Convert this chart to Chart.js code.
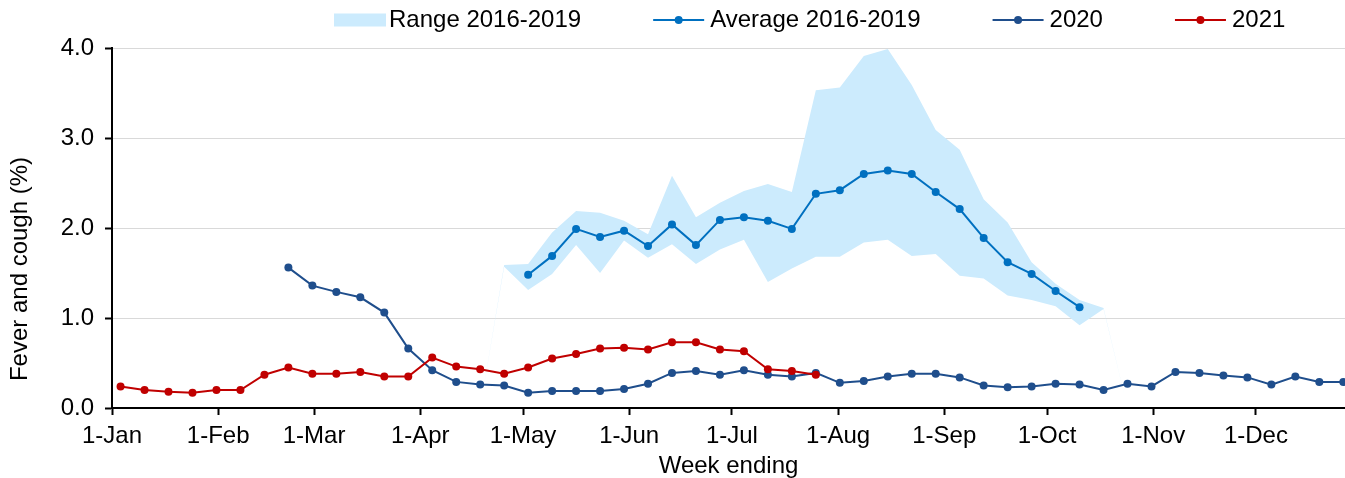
<!DOCTYPE html>
<html>
<head>
<meta charset="utf-8">
<script src="https://cdn.jsdelivr.net/npm/chart.js@4"></script>
<style>
  body { margin: 0; background: #fff; }
  canvas { display: block; }
</style>
</head>
<body>
<canvas id="chart" width="1345" height="478"></canvas>
<script>
// week ending dates (all series share the same weeks)
const weekEnding = [
  "3-Jan", "10-Jan", "17-Jan", "24-Jan", "31-Jan",
  "7-Feb", "14-Feb", "21-Feb", "28-Feb",
  "7-Mar", "14-Mar", "21-Mar", "28-Mar",
  "4-Apr", "11-Apr", "18-Apr", "25-Apr",
  "2-May", "9-May", "16-May", "23-May", "30-May",
  "6-Jun", "13-Jun", "20-Jun", "27-Jun",
  "4-Jul", "11-Jul", "18-Jul", "25-Jul",
  "1-Aug", "8-Aug", "15-Aug", "22-Aug", "29-Aug",
  "5-Sep", "12-Sep", "19-Sep", "26-Sep",
  "3-Oct", "10-Oct", "17-Oct", "24-Oct", "31-Oct",
  "7-Nov", "14-Nov", "21-Nov", "28-Nov",
  "5-Dec", "12-Dec", "19-Dec", "26-Dec"
];

const months = ["Jan", "Feb", "Mar", "Apr", "May", "Jun", "Jul", "Aug", "Sep", "Oct", "Nov", "Dec"];
const monthStartDay = [0, 31, 59, 90, 120, 151, 181, 212, 243, 273, 304, 334];
const monthTickLabels = ["1-Jan", "1-Feb", "1-Mar", "1-Apr", "1-May", "1-Jun", "1-Jul", "1-Aug", "1-Sep", "1-Oct", "1-Nov", "1-Dec"];
const yTicks = [0, 1, 2, 3, 4];

// range 2016-2019 (lower / upper edge of the band)
const rangeLow = [
  null, null, null, null, null, null, null, null, null, null, null, null, null, null, null,
  0,
  1.57, 1.31, 1.49, 1.81, 1.50, 1.86, 1.67, 1.82, 1.60, 1.76, 1.87, 1.40, 1.55,
  1.68, 1.68, 1.84, 1.87, 1.69, 1.71, 1.47, 1.44, 1.25, 1.20, 1.13, 0.92, 1.10,
  0,
  null, null, null, null, null, null, null, null, null
];
const rangeHigh = [
  null, null, null, null, null, null, null, null, null, null, null, null, null, null, null,
  0,
  1.59, 1.60, 1.95, 2.19, 2.17, 2.08, 1.93, 2.58, 2.12, 2.28, 2.41, 2.49, 2.40,
  3.53, 3.56, 3.91, 3.99, 3.59, 3.09, 2.87, 2.32, 2.06, 1.62, 1.38, 1.20, 1.11,
  0,
  null, null, null, null, null, null, null, null, null
];

const avg1619 = [
  null, null, null, null, null, null, null, null, null, null, null, null, null, null, null, null, null,
  1.48, 1.69, 1.99, 1.90, 1.97, 1.80, 2.04, 1.81, 2.09, 2.12, 2.08, 1.99,
  2.38, 2.42, 2.60, 2.64, 2.60, 2.40, 2.21, 1.89, 1.62, 1.49, 1.30, 1.12,
  null, null, null, null, null, null, null, null, null, null, null
];

const y2020 = [
  null, null, null, null, null, null, null,
  1.56, 1.36, 1.29, 1.23, 1.06, 0.66, 0.42, 0.29, 0.26, 0.25,
  0.17, 0.19, 0.19, 0.19, 0.21, 0.27, 0.39, 0.41, 0.37, 0.42,
  0.37, 0.35, 0.39, 0.28, 0.30, 0.35, 0.38, 0.38, 0.34, 0.25,
  0.23, 0.24, 0.27, 0.26, 0.20, 0.27, 0.24, 0.40, 0.39, 0.36,
  0.34, 0.26, 0.35, 0.29, 0.29
];

const y2021 = [
  0.24, 0.20, 0.18, 0.17, 0.20, 0.20, 0.37, 0.45, 0.38, 0.38,
  0.40, 0.35, 0.35, 0.56, 0.46, 0.43, 0.38, 0.45, 0.55, 0.60,
  0.66, 0.67, 0.65, 0.73, 0.73, 0.65, 0.63, 0.43, 0.41, 0.37,
  null, null, null, null, null, null, null, null, null, null, null,
  null, null, null, null, null, null, null, null, null, null, null
];

const FONT = '"Liberation Sans", Arial, sans-serif';

// day of the year, points sit in the middle of the day like the excel date axis
function dayOfYear(label) {
  const [d, m] = label.split("-");
  return monthStartDay[months.indexOf(m)] + (+d - 1) + 0.5;
}
const weekX = weekEnding.map(dayOfYear);
const toPoints = values => values.map((v, i) => ({ x: weekX[i], y: v }));

// legend and y title are drawn by hand so they can sit where the original has them
const extrasPlugin = {
  id: "extras",
  afterDraw(chart) {
    const ctx = chart.ctx;
    ctx.save();
    ctx.font = "24px " + FONT;
    ctx.textBaseline = "middle";
    ctx.textAlign = "left";
    let x = 334;
    const y = 20;
    chart.data.datasets.forEach(ds => {
      if (!ds.label) return;
      if (ds.fill) {
        ctx.fillStyle = ds.backgroundColor;
        ctx.fillRect(x, y - 6.5, 52, 13);
        x += 52 + 3;
      } else {
        ctx.strokeStyle = ds.borderColor;
        ctx.lineWidth = 2;
        ctx.beginPath();
        ctx.moveTo(x, y);
        ctx.lineTo(x + 51, y);
        ctx.stroke();
        ctx.fillStyle = ds.borderColor;
        ctx.beginPath();
        ctx.arc(x + 25.5, y, 4, 0, Math.PI * 2);
        ctx.fill();
        x += 51 + 6;
      }
      ctx.fillStyle = "#000";
      ctx.fillText(ds.label, x, y);
      x += ctx.measureText(ds.label).width + 72;
    });

    // y axis title
    ctx.translate(20, 269);
    ctx.rotate(-Math.PI / 2);
    ctx.textAlign = "center";
    ctx.fillText("Fever and cough (%)", 0, 0);
    ctx.restore();
  }
};

new Chart(document.getElementById("chart"), {
  type: "line",
  data: {
    datasets: [
      {
        label: "",
        data: toPoints(rangeLow),
        borderWidth: 0,
        pointRadius: 0,
        fill: false,
        order: 5
      },
      {
        label: "Range 2016-2019",
        data: toPoints(rangeHigh),
        borderWidth: 0,
        pointRadius: 0,
        backgroundColor: "#CCEBFD",
        fill: "-1",
        order: 4
      },
      {
        label: "Average 2016-2019",
        data: toPoints(avg1619),
        borderColor: "#0070C0",
        backgroundColor: "#0070C0",
        borderWidth: 2,
        pointRadius: 4,
        pointBorderWidth: 0,
        order: 3
      },
      {
        label: "2020",
        data: toPoints(y2020),
        borderColor: "#1F4E8C",
        backgroundColor: "#1F4E8C",
        borderWidth: 2,
        pointRadius: 4,
        pointBorderWidth: 0,
        clip: false,
        order: 2
      },
      {
        label: "2021",
        data: toPoints(y2021),
        borderColor: "#C00000",
        backgroundColor: "#C00000",
        borderWidth: 2,
        pointRadius: 4,
        pointBorderWidth: 0,
        order: 1
      }
    ]
  },
  options: {
    responsive: false,
    animation: false,
    layout: {
      autoPadding: false, // plot runs right to the edge like the original
      padding: { top: 48, left: 0, right: 0, bottom: 0 }
    },
    plugins: {
      legend: { display: false },
      tooltip: { enabled: false }
    },
    scales: {
      x: {
        type: "linear",
        min: 0,
        max: 360,
        afterFit: scale => { scale.height = 70; },
        afterBuildTicks: scale => {
          scale.ticks = monthStartDay.map(v => ({ value: v }));
        },
        ticks: {
          autoSkip: false,
          maxRotation: 0,
          padding: 7,
          color: "#000",
          font: { family: FONT, size: 24 },
          callback: v => monthTickLabels[monthStartDay.indexOf(v)]
        },
        grid: {
          drawOnChartArea: false,
          drawTicks: true,
          tickLength: 7,
          tickColor: "#000",
          tickWidth: 2
        },
        border: { color: "#000", width: 2 },
        title: {
          display: true,
          text: "Week ending",
          color: "#000",
          font: { family: FONT, size: 24 },
          padding: { top: 0, bottom: -3 }
        }
      },
      y: {
        min: 0,
        max: 4,
        afterFit: scale => { scale.width = 112; },
        afterBuildTicks: scale => {
          scale.ticks = yTicks.map(v => ({ value: v }));
        },
        ticks: {
          padding: 11,
          color: "#000",
          font: { family: FONT, size: 24 },
          callback: v => v.toFixed(1)
        },
        grid: {
          color: "#D9D9D9",
          lineWidth: 1,
          tickLength: 7,
          tickColor: "#000",
          tickWidth: 2
        },
        border: { color: "#000", width: 2 }
      }
    }
  },
  plugins: [extrasPlugin]
});
</script>
</body>
</html>
